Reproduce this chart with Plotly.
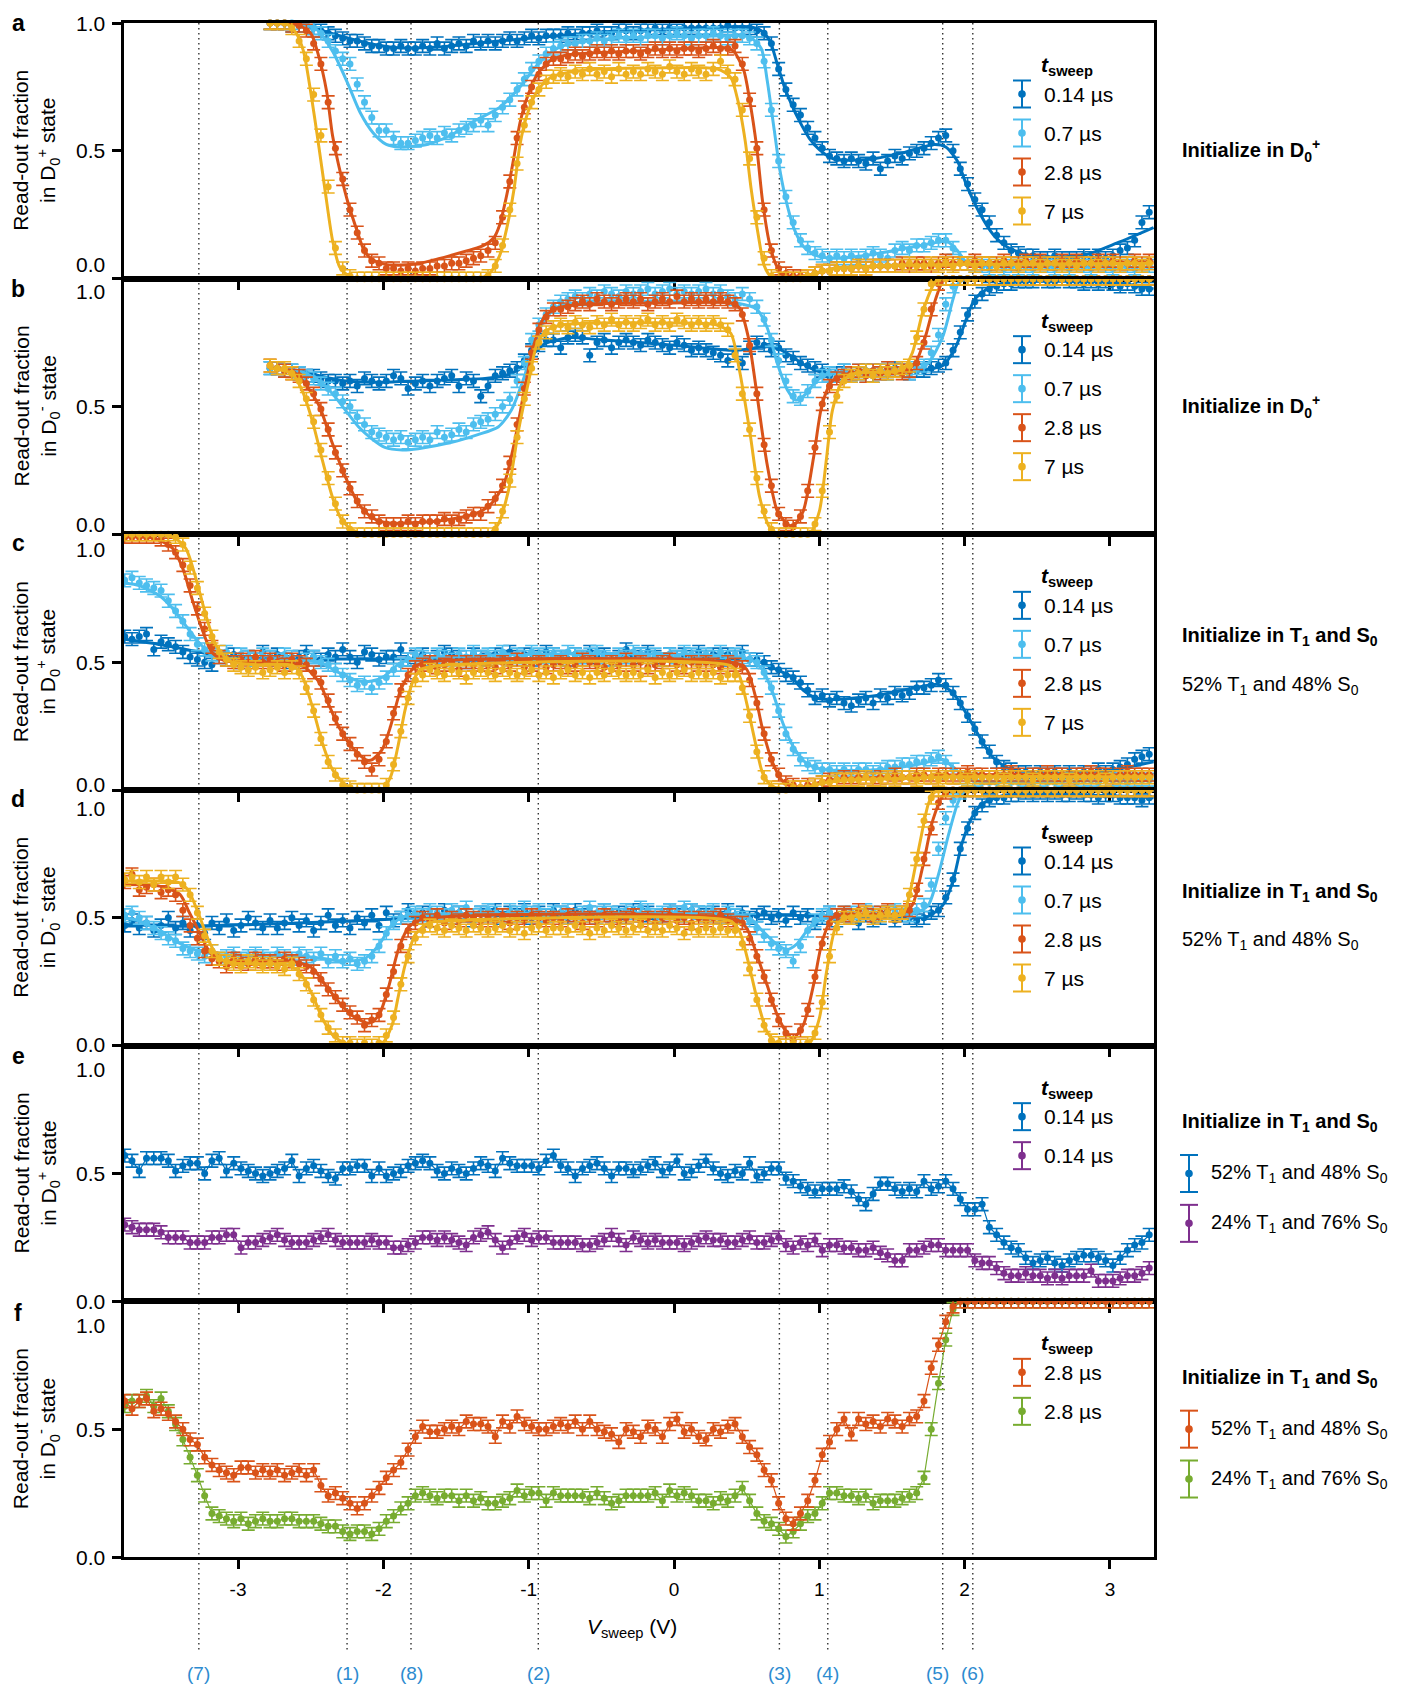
import numpy as np
import plotly.graph_objects as go
from plotly.subplots import make_subplots

# ---------------- sweep-voltage grid ----------------
V_START = -3.78
V_STEP = 0.05
N_V = 142
V_GRID = np.round(V_START + V_STEP * np.arange(N_V), 2)
AB_START = 20  # panels a and b begin at V = -2.78

ERR = 0.025  # half height of error bars

X_TICKS = [-3, -2, -1, 0, 1, 2, 3]
X_TICK_TEXT = ["-3", "-2", "-1", "0", "1", "2", "3"]
Y_TICKS = [0.0, 0.5, 1.0]
Y_TICK_TEXT = ["0.0", "0.5", "1.0"]

MARK_V = [-3.27, -2.25, -1.81, -0.934, 0.725, 1.058, 1.849, 2.056]
MARK_TEXT = ["(7)", "(1)", "(8)", "(2)", "(3)", "(4)", "(5)", "(6)"]
MARK_SHIFT = [0, 0, 0, 0, 0, 0, -5, 0]

SWEEP_LABELS = ["0.14 µs", "0.7 µs", "2.8 µs", "7 µs"]
MIX_LABELS = ["52% T<sub>1</sub> and 48% S<sub>0</sub>", "24% T<sub>1</sub> and 76% S<sub>0</sub>"]

C_014, C_07, C_28, C_7 = "#0072BD", "#4DBEEE", "#D95319", "#EDB120"
C_PUR, C_GRN = "#7E2F8E", "#77AC30"
C_MARK = "#2C8BD0"

# ---------------- panel a (percent, from V=-2.78) ----------------
A_014 = [100,100,100,99,99,99,98,97,96,95,
         94,93,93,92,91,91,90,90,91,90,
         90,91,90,92,90,91,92,91,93,92,
         93,92,93,94,93,94,95,94,95,95,
         95,96,95,96,96,97,96,96,97,97,
         96,97,97,98,97,98,97,98,98,98,
         98,98,98,99,98,98,98,97,96,92,
         82,74,68,64,59,55,51,48,47,46,
         47,46,45,47,43,46,48,47,49,50,
         51,53,55,56,50,43,37,31,27,22,
         17,14,11,10,9,9,8,8,9,8,
         8,8,9,8,9,8,9,11,12,15,22,26]
A_07 = [100,100,100,100,99,99,98,96,93,89,
        86,84,76,69,63,58,58,55,53,53,
        54,55,56,55,57,56,58,59,60,62,
        60,64,67,70,74,78,82,85,88,90,
        91,92,92,93,93,94,93,94,95,94,
        95,94,95,95,94,95,96,95,94,95,
        95,96,95,94,95,95,94,92,85,66,
        46,32,22,15,12,10,9,8,9,8,
        9,8,9,10,9,8,11,12,11,13,
        13,14,15,15,12,8,6,5,5,4,
        5,4,5,4,5,4,5,5,4,5,
        4,5,5,4,5,5,4,5,5,4,5,5]
A_28 = [100,100,100,99,99,97,92,84,69,51,
        39,27,18,11,7,6,4,4,3,4,
        3,4,4,5,5,6,6,7,8,9,
        11,14,24,38,55,67,75,80,84,86,
        86,87,88,87,88,89,88,89,88,89,
        89,88,89,90,89,90,89,90,90,89,
        90,91,90,90,91,84,70,51,27,11,
        4,2,1,1,1,2,3,3,4,4,
        4,5,4,5,5,5,5,6,5,6,
        6,5,6,7,6,6,6,7,6,6,
        6,7,6,6,7,6,7,6,6,7,
        6,7,6,6,7,6,7,6,6,7,6,7]
A_7 = [100,100,100,98,93,86,72,56,36,12,
       4,1,0,0,0,0,0,0,0,0,
       0,0,0,0,0,0,0,0,0,0,
       1,5,13,27,45,60,69,74,77,79,
       80,79,81,80,82,80,81,79,82,80,
       81,80,82,81,80,83,81,80,82,81,
       80,82,85,81,78,66,47,24,8,1,
       0,0,0,0,1,2,3,3,4,4,
       4,5,4,5,5,5,5,5,6,5,
       5,6,5,6,5,6,6,5,6,6,
       5,6,6,5,6,6,5,6,6,5,
       6,5,6,6,5,6,6,5,6,6,5,6]

FIT_A_014 = [(-2.78,1.0),(-2.6,0.995),(-2.45,0.975),(-2.3,0.95),(-2.1,0.92),(-1.9,0.903),(-1.65,0.905),
             (-1.4,0.918),(-1.2,0.93),(-0.8,0.95),(-0.5,0.965),(0.0,0.977),(0.3,0.983),(0.52,0.985),
             (0.6,0.97),(0.66,0.93),(0.71,0.84),(0.76,0.75),(0.81,0.68),(0.86,0.62),(0.93,0.55),
             (1.0,0.505),(1.1,0.468),(1.33,0.466),(1.56,0.49),(1.79,0.525),(1.87,0.515),(1.95,0.46),
             (2.01,0.37),(2.1,0.26),(2.2,0.17),(2.29,0.125),(2.43,0.092),(2.6,0.085),(2.82,0.092),
             (3.05,0.14),(3.3,0.2)]
FIT_A_07 = [(-2.78,1.0),(-2.55,0.995),(-2.46,0.975),(-2.35,0.89),(-2.25,0.77),(-2.16,0.65),(-2.07,0.57),
            (-1.98,0.525),(-1.89,0.515),(-1.7,0.525),(-1.54,0.56),(-1.38,0.615),(-1.2,0.67),(-1.06,0.75),
            (-0.92,0.85),(-0.79,0.905),(-0.51,0.935),(0.18,0.948),(0.52,0.945),(0.6,0.9),(0.64,0.78),
            (0.69,0.58),(0.73,0.42),(0.78,0.285),(0.83,0.19),(0.9,0.12),(0.99,0.088),(1.1,0.08),
            (1.33,0.092),(1.56,0.115),(1.79,0.14),(1.88,0.145),(1.95,0.11),(2.01,0.066),(2.13,0.05),
            (2.5,0.045),(3.3,0.045)]
FIT_A_28 = [(-2.78,1.0),(-2.6,0.995),(-2.5,0.96),(-2.45,0.88),(-2.39,0.73),(-2.35,0.56),(-2.29,0.40),
            (-2.24,0.29),(-2.18,0.185),(-2.14,0.12),(-2.09,0.08),(-2.03,0.062),(-1.93,0.053),(-1.77,0.058),
            (-1.54,0.09),(-1.31,0.13),(-1.24,0.16),(-1.2,0.21),(-1.15,0.33),(-1.1,0.48),(-1.06,0.61),
            (-1.01,0.71),(-0.94,0.80),(-0.85,0.853),(-0.74,0.875),(-0.28,0.89),(0.36,0.903),(0.41,0.89),
            (0.48,0.815),(0.52,0.70),(0.57,0.51),(0.61,0.30),(0.66,0.13),(0.71,0.045),(0.75,0.015),
            (0.86,0.008),(0.97,0.02),(1.1,0.04),(1.56,0.052),(2.0,0.062),(3.3,0.065)]
FIT_A_7 = [(-2.78,1.0),(-2.66,0.995),(-2.6,0.96),(-2.55,0.89),(-2.5,0.73),(-2.45,0.54),(-2.4,0.34),
           (-2.35,0.15),(-2.3,0.045),(-2.23,0.008),(-2.1,0.0),(-1.35,0.0),(-1.27,0.02),(-1.2,0.09),
           (-1.15,0.2),(-1.1,0.354),(-1.06,0.525),(-1.01,0.643),(-0.94,0.735),(-0.85,0.787),(-0.62,0.815),
           (-0.05,0.825),(0.3,0.82),(0.39,0.787),(0.44,0.695),(0.49,0.538),(0.53,0.354),(0.58,0.17),
           (0.62,0.052),(0.67,0.007),(0.82,0.003),(0.97,0.02),(1.1,0.04),(1.56,0.052),(2.0,0.055),(3.3,0.06)]

# ---------------- panel b (percent, from V=-2.78) ----------------
B_014 = [65,65,64,64,63,62,62,61,60,60,
         59,60,58,61,60,59,60,62,61,57,
         59,60,58,60,61,62,58,61,60,54,
         58,62,63,64,65,68,72,74,76,76,
         73,77,78,77,70,75,76,73,75,76,
         75,74,76,75,74,73,75,74,72,73,
         72,71,70,68,71,67,73,75,74,72,
         73,70,69,67,66,65,64,62,63,64,
         62,63,64,62,64,63,65,64,63,64,
         64,65,66,67,72,79,86,91,94,96,
         97,98,98,99,99,99,100,99,99,100,
         99,99,98,99,98,99,98,97,98,97,96,96]
B_07 = [65,65,64,64,63,62,61,59,57,55,
        52,50,46,43,40,39,38,37,38,36,
        37,38,37,40,38,39,41,40,43,44,
        45,47,50,53,60,67,76,82,86,89,
        91,92,93,92,94,93,95,94,93,95,
        94,95,96,94,95,96,94,95,94,95,
        96,94,95,93,92,94,92,89,84,76,
        68,60,54,53,56,60,62,63,62,64,
        63,64,62,64,63,65,64,64,63,65,
        66,71,78,90,97,100,100,100,100,100,
        100,100,100,100,100,100,100,100,100,100,
        100,100,100,100,100,100,100,100,100,100,100,100]
B_28 = [66,65,64,63,62,59,55,49,41,32,
        25,18,13,9,7,5,4,4,4,5,
        4,5,5,5,6,5,6,7,8,8,
        11,14,19,28,43,57,71,80,85,88,
        88,89,90,91,90,92,91,90,91,92,
        91,92,90,91,92,91,93,91,92,91,
        92,91,92,91,90,86,74,55,35,19,
        8,4,3,7,17,34,51,58,61,62,
        63,64,62,64,63,65,64,63,64,67,
        75,88,98,100,100,100,100,100,100,100,
        100,100,100,100,100,100,100,100,100,100,
        100,100,100,100,100,100,100,100,100,100,100,100]
B_7 = [66,65,65,63,60,53,44,33,22,12,
       5,2,0,0,0,0,0,0,0,0,
       0,0,0,0,0,0,0,0,0,0,
       0,2,9,21,38,53,65,75,79,81,
       82,81,83,82,81,83,82,84,82,83,
       82,83,84,82,83,82,84,83,82,83,
       82,83,82,80,70,55,41,22,9,2,
       0,0,0,0,0,4,17,40,54,60,
       62,63,64,62,64,63,64,65,66,77,
       88,98,100,100,100,100,100,100,100,100,
       100,100,100,100,100,100,100,100,100,100,
       100,100,100,100,100,100,100,100,100,100,100,100]

FIT_B_014 = [(-2.78,0.65),(-2.58,0.64),(-2.44,0.62),(-2.26,0.60),(-2.0,0.595),(-1.76,0.60),(-1.3,0.61),
             (-1.17,0.62),(-1.07,0.645),(-0.98,0.70),(-0.89,0.745),(-0.71,0.77),(-0.53,0.762),(0.0,0.74),
             (0.39,0.72),(0.52,0.725),(0.61,0.735),(0.71,0.728),(0.8,0.70),(0.89,0.665),(0.98,0.64),
             (1.12,0.63),(1.66,0.64),(1.85,0.66),(1.94,0.735),(2.01,0.84),(2.07,0.92),(2.17,0.965),
             (2.3,0.985),(2.58,0.99),(3.03,0.985),(3.3,0.96)]
FIT_B_07 = [(-2.78,0.65),(-2.58,0.64),(-2.44,0.60),(-2.35,0.55),(-2.26,0.485),(-2.17,0.42),(-2.08,0.374),
            (-1.99,0.34),(-1.87,0.33),(-1.76,0.335),(-1.53,0.36),(-1.35,0.39),(-1.21,0.42),(-1.12,0.485),
            (-1.03,0.617),(-0.96,0.75),(-0.89,0.84),(-0.8,0.89),(-0.62,0.91),(0.0,0.91),(0.43,0.905),
            (0.57,0.88),(0.64,0.81),(0.71,0.67),(0.78,0.565),(0.84,0.525),(0.91,0.55),(0.98,0.60),
            (1.07,0.63),(1.21,0.635),(1.66,0.643),(1.75,0.67),(1.85,0.775),(1.92,0.92),(1.96,0.985),
            (2.03,1.0),(3.3,1.0)]
FIT_B_28 = [(-2.78,0.65),(-2.63,0.64),(-2.54,0.59),(-2.44,0.50),(-2.35,0.354),(-2.26,0.223),(-2.17,0.118),
            (-2.08,0.066),(-1.99,0.046),(-1.76,0.046),(-1.53,0.06),(-1.35,0.085),(-1.26,0.118),(-1.17,0.197),
            (-1.1,0.354),(-1.03,0.564),(-0.96,0.75),(-0.89,0.853),(-0.8,0.886),(-0.62,0.90),(0.0,0.905),
            (0.39,0.905),(0.45,0.886),(0.51,0.774),(0.57,0.55),(0.64,0.276),(0.71,0.092),(0.78,0.04),
            (0.82,0.033),(0.89,0.092),(0.96,0.30),(1.02,0.51),(1.09,0.60),(1.21,0.63),(1.57,0.636),
            (1.66,0.67),(1.73,0.774),(1.8,0.92),(1.85,0.99),(1.9,1.0),(3.3,1.0)]
FIT_B_7 = [(-2.78,0.65),(-2.63,0.63),(-2.56,0.564),(-2.49,0.446),(-2.42,0.29),(-2.35,0.144),(-2.29,0.06),
           (-2.22,0.02),(-2.12,0.0),(-1.28,0.0),(-1.21,0.04),(-1.14,0.17),(-1.07,0.407),(-1.0,0.60),
           (-0.94,0.75),(-0.87,0.80),(-0.76,0.82),(0.0,0.827),(0.29,0.82),(0.39,0.787),(0.45,0.643),
           (0.52,0.407),(0.59,0.144),(0.66,0.026),(0.73,0.0),(0.93,0.0),(1.0,0.09),(1.05,0.30),
           (1.09,0.485),(1.16,0.60),(1.25,0.63),(1.57,0.643),(1.64,0.71),(1.71,0.866),(1.78,0.97),
           (1.82,1.0),(3.3,1.0)]

# ---------------- panel c (percent, from V=-3.78) ----------------
C_014_D = [60,59,60,61,55,58,57,56,54,52,
           51,50,49,52,51,53,50,52,51,54,
           52,53,51,50,52,54,52,51,53,52,
           55,52,50,54,53,51,52,52,55,51,
           52,53,51,52,54,53,52,50,53,52,
           51,53,52,54,52,53,51,52,54,53,
           52,51,53,52,54,52,53,51,52,55,
           52,53,54,52,51,53,52,53,52,54,
           52,53,51,53,52,54,51,51,50,48,
           47,45,44,42,39,36,37,35,36,34,
           33,35,36,34,37,36,38,37,38,40,
           40,41,43,41,38,34,29,24,19,15,
           11,9,8,7,7,6,7,6,7,6,
           7,6,7,7,8,7,8,9,10,12,
           13,14]
C_07_D = [82,83,81,80,79,78,74,70,66,61,
          57,55,53,52,54,51,53,52,51,53,
          52,51,53,52,50,51,52,50,49,47,
          45,43,41,42,40,42,44,47,49,51,
          53,52,51,53,52,51,53,52,54,52,
          53,52,54,51,53,52,54,53,52,53,
          52,54,53,52,53,54,52,51,53,52,
          54,53,52,53,51,53,52,54,53,52,
          53,52,54,52,53,52,51,50,46,40,
          31,22,16,12,10,9,8,8,7,8,
          7,8,8,7,8,9,9,10,10,11,
          11,12,13,11,8,5,4,4,3,3,
          3,4,3,3,4,3,4,3,3,4,
          4,3,4,4,3,4,4,4,3,4,
          4,4]
C_28_D = [99,99,99,99,99,98,96,93,88,80,
          71,63,56,52,51,50,51,50,52,50,
          51,50,49,51,50,49,46,42,35,28,
          22,18,14,11,8,12,19,30,39,45,
          48,49,50,48,49,50,47,50,49,50,
          49,48,50,49,51,48,49,50,48,49,
          50,48,49,51,50,49,48,50,49,51,
          49,50,48,49,50,51,49,48,50,49,
          50,49,48,50,49,48,43,34,22,12,
          6,3,2,1,2,2,3,4,4,5,
          4,5,5,4,5,5,6,5,5,6,
          6,5,6,6,5,6,7,6,6,5,
          6,6,7,6,5,6,6,7,6,6,
          5,6,6,7,6,6,5,6,7,6,
          6,6]
C_7_D = [100,100,100,100,100,100,100,99,96,87,
         79,69,60,54,51,49,48,47,48,46,
         47,48,46,48,46,40,31,20,11,6,
         2,1,0,0,0,0,2,10,23,36,
         43,45,47,46,45,47,46,44,46,47,
         46,45,47,46,45,46,47,45,46,44,
         46,47,45,46,44,46,45,47,46,45,
         46,45,47,44,46,45,46,47,45,46,
         45,46,44,45,45,40,29,15,5,1,
         0,0,1,1,1,2,3,3,4,4,
         4,4,5,4,4,5,4,5,5,4,
         5,5,4,5,5,5,4,5,5,5,
         5,4,5,5,5,4,5,5,5,5,
         4,5,5,5,5,4,5,5,5,5,
         5,5]

FIT_C_014 = [(-3.78,0.59),(-3.6,0.575),(-3.36,0.55),(-3.13,0.525),(-2.9,0.515),(-2.0,0.512),(0.0,0.512),
             (0.48,0.512),(0.57,0.505),(0.71,0.47),(0.8,0.446),(0.89,0.39),(0.98,0.36),(1.12,0.354),
             (1.44,0.374),(1.66,0.40),(1.82,0.413),(1.92,0.38),(2.01,0.30),(2.1,0.21),(2.19,0.13),
             (2.3,0.085),(2.49,0.066),(2.81,0.068),(3.03,0.079),(3.3,0.11)]
FIT_C_07 = [(-3.78,0.81),(-3.68,0.80),(-3.54,0.76),(-3.45,0.71),(-3.36,0.643),(-3.27,0.577),(-3.18,0.53),
            (-3.05,0.512),(-2.67,0.508),(-2.44,0.50),(-2.31,0.46),(-2.17,0.426),(-2.08,0.426),(-1.99,0.446),
            (-1.9,0.49),(-1.8,0.512),(0.52,0.512),(0.61,0.47),(0.68,0.38),(0.75,0.26),(0.82,0.17),
            (0.91,0.105),(1.02,0.081),(1.21,0.076),(1.44,0.081),(1.66,0.098),(1.85,0.118),(1.94,0.079),
            (2.03,0.04),(2.21,0.033),(3.3,0.04)]
FIT_C_28 = [(-3.78,0.99),(-3.58,0.985),(-3.45,0.945),(-3.38,0.866),(-3.31,0.735),(-3.24,0.617),(-3.18,0.538),
            (-3.09,0.505),(-2.9,0.50),(-2.63,0.496),(-2.54,0.48),(-2.44,0.42),(-2.38,0.34),(-2.31,0.25),
            (-2.22,0.17),(-2.12,0.118),(-2.08,0.118),(-2.01,0.157),(-1.95,0.25),(-1.88,0.394),(-1.8,0.472),
            (-1.74,0.496),(0.43,0.496),(0.5,0.472),(0.56,0.367),(0.61,0.236),(0.68,0.105),(0.75,0.033),
            (0.82,0.013),(0.93,0.016),(1.02,0.033),(1.21,0.046),(1.66,0.052),(1.89,0.059),(3.3,0.059)]
FIT_C_7 = [(-3.78,1.0),(-3.45,0.99),(-3.36,0.945),(-3.29,0.827),(-3.22,0.68),(-3.15,0.564),(-3.06,0.505),
           (-2.9,0.49),(-2.63,0.488),(-2.56,0.446),(-2.49,0.328),(-2.42,0.184),(-2.35,0.079),(-2.26,0.02),
           (-2.17,0.0),(-2.01,0.0),(-1.95,0.052),(-1.9,0.17),(-1.85,0.315),(-1.8,0.42),(-1.74,0.472),
           (-1.63,0.486),(0.39,0.486),(0.45,0.446),(0.5,0.34),(0.56,0.184),(0.61,0.066),(0.68,0.013),
           (0.89,0.007),(1.02,0.026),(1.21,0.04),(1.66,0.046),(1.89,0.052),(3.3,0.052)]

# ---------------- panel d (percent, from V=-3.78) ----------------
D_014 = [47,49,46,48,45,47,50,46,48,45,
         47,44,48,46,49,45,47,50,48,46,
         49,46,48,50,47,49,45,48,51,47,
         49,46,50,48,51,47,52,49,50,53,
         50,52,49,51,53,50,52,51,49,52,
         51,53,50,52,51,53,50,52,51,53,
         52,50,53,51,52,50,53,51,52,50,
         53,51,52,50,51,53,52,51,53,52,
         51,52,50,53,51,52,50,51,52,50,
         51,49,52,50,51,48,50,52,49,51,
         50,48,51,49,50,52,49,51,50,49,
         50,52,53,58,65,77,85,91,94,96,
         97,97,98,98,99,98,99,98,99,98,
         98,99,98,98,97,98,98,97,97,97,
         96,97]
D_07 = [51,52,50,48,46,44,42,41,38,37,
        36,35,37,34,35,36,34,35,36,35,
        34,36,35,34,36,35,34,36,33,35,
        33,34,32,33,35,39,44,48,50,51,
        52,51,53,52,51,53,52,54,51,52,
        53,52,51,53,52,54,52,53,51,52,
        52,53,51,52,54,52,53,52,51,53,
        52,54,53,51,52,53,52,54,53,52,
        52,53,51,52,51,50,49,46,43,40,
        38,37,33,39,45,49,51,52,51,52,
        52,51,53,52,51,52,53,52,51,53,
        55,63,77,89,96,99,100,100,100,100,
        100,100,100,100,100,100,100,100,100,100,
        100,100,100,100,100,100,100,100,100,100,
        100,100]
D_28 = [64,67,61,62,63,60,61,59,53,47,
        42,37,34,33,31,34,33,32,34,33,
        33,32,34,33,32,31,29,26,22,19,
        16,13,11,8,10,12,20,29,39,45,
        48,50,49,51,48,50,49,51,50,49,
        50,49,51,48,50,49,51,50,49,50,
        49,51,50,48,50,49,51,50,49,50,
        51,49,50,48,50,51,49,50,48,50,
        49,50,51,49,48,48,42,35,27,18,
        10,5,2,6,14,27,40,48,51,52,
        51,53,52,51,52,53,51,52,53,61,
        73,85,95,99,100,100,100,100,100,100,
        100,100,100,100,100,100,100,100,100,100,
        100,100,100,100,100,100,100,100,100,100,
        100,100]
D_7 = [65,66,64,66,63,66,64,66,63,59,
       52,43,37,34,33,32,31,33,32,31,
       32,31,30,32,28,24,18,12,7,4,
       1,1,0,1,0,1,4,11,24,35,
       42,45,47,46,45,47,46,45,47,46,
       45,46,47,45,46,44,46,47,45,46,
       46,45,47,46,44,46,45,47,46,45,
       46,47,45,46,45,47,46,44,46,45,
       46,45,46,45,45,40,30,18,8,2,
       1,0,1,0,1,5,17,35,46,50,
       50,51,52,50,51,52,51,52,59,73,
       88,97,100,100,100,100,100,100,100,100,
       100,100,100,100,100,100,100,100,100,100,
       100,100,100,100,100,100,100,100,100,100,
       100,100]

FIT_D_014 = [(-3.78,0.474),(-3.36,0.467),(-2.9,0.474),(-1.99,0.493),(-1.53,0.51),(-1.07,0.513),(0.0,0.513),
             (0.75,0.51),(1.21,0.506),(1.57,0.50),(1.75,0.506),(1.85,0.55),(1.92,0.644),(1.98,0.788),
             (2.05,0.893),(2.12,0.945),(2.26,0.978),(2.58,0.984),(3.3,0.97)]
FIT_D_07 = [(-3.78,0.50),(-3.68,0.487),(-3.54,0.448),(-3.4,0.40),(-3.27,0.37),(-3.13,0.356),(-2.63,0.353),
            (-2.44,0.343),(-2.26,0.33),(-2.12,0.343),(-2.03,0.395),(-1.94,0.474),(-1.85,0.506),(-1.71,0.513),
            (0.43,0.513),(0.52,0.50),(0.61,0.448),(0.71,0.395),(0.78,0.376),(0.84,0.395),(0.93,0.46),
            (1.02,0.50),(1.21,0.513),(1.66,0.52),(1.75,0.55),(1.82,0.67),(1.89,0.827),(1.95,0.945),
            (1.99,0.99),(2.05,1.0),(3.3,1.0)]
FIT_D_28 = [(-3.78,0.63),(-3.54,0.624),(-3.4,0.592),(-3.34,0.526),(-3.27,0.448),(-3.2,0.37),(-3.13,0.336),
            (-2.99,0.33),(-2.63,0.33),(-2.49,0.304),(-2.4,0.238),(-2.31,0.173),(-2.22,0.12),(-2.1,0.088),
            (-2.03,0.12),(-1.96,0.238),(-1.9,0.37),(-1.83,0.46),(-1.74,0.493),(0.43,0.493),(0.5,0.46),
            (0.57,0.356),(0.64,0.238),(0.71,0.12),(0.78,0.048),(0.82,0.029),(0.89,0.081),(0.96,0.238),
            (1.02,0.408),(1.09,0.50),(1.21,0.513),(1.57,0.516),(1.64,0.55),(1.71,0.696),(1.78,0.88),
            (1.85,0.978),(1.9,1.0),(3.3,1.0)]
FIT_D_7 = [(-3.78,0.644),(-3.4,0.637),(-3.34,0.605),(-3.27,0.513),(-3.2,0.408),(-3.13,0.343),(-3.04,0.323),
           (-2.67,0.317),(-2.58,0.29),(-2.49,0.2),(-2.42,0.107),(-2.35,0.042),(-2.26,0.009),(-2.01,0.009),
           (-1.94,0.081),(-1.9,0.186),(-1.85,0.317),(-1.78,0.435),(-1.69,0.48),(-1.58,0.487),(0.39,0.487),
           (0.45,0.448),(0.51,0.33),(0.57,0.186),(0.64,0.055),(0.71,0.009),(0.93,0.009),(1.0,0.107),
           (1.05,0.29),(1.12,0.474),(1.21,0.506),(1.57,0.513),(1.62,0.59),(1.69,0.788),(1.75,0.945),
           (1.79,0.99),(1.84,1.0),(3.3,1.0)]

# ---------------- panel e (percent, from V=-3.78) ----------------
E_52 = [57,55,51,56,56,56,55,51,53,54,
        54,50,55,56,51,54,52,51,50,49,
        50,51,52,55,49,52,53,51,49,48,
        52,52,53,53,49,52,49,50,51,53,
        54,55,54,51,50,52,51,50,52,54,
        53,51,56,54,53,53,53,52,55,57,
        53,52,49,52,53,54,52,49,52,52,
        51,52,53,54,51,52,55,50,51,53,
        55,52,50,49,51,50,54,49,50,52,
        52,48,47,45,44,43,44,44,44,45,
        43,40,38,42,46,46,44,43,44,43,
        47,44,45,47,44,40,36,36,38,29,
        26,23,21,20,17,15,16,17,15,14,
        16,17,18,18,17,16,14,17,20,22,
        23,26]
E_24 = [30,29,28,28,28,27,25,25,25,23,
        23,23,25,25,26,26,21,23,23,24,
        25,26,24,23,23,23,24,25,26,24,
        23,23,23,23,24,23,23,21,21,22,
        23,25,25,24,25,24,23,22,25,26,
        27,24,21,23,25,26,24,25,25,23,
        23,23,23,22,22,23,24,26,24,22,
        25,24,23,24,23,23,23,22,23,24,
        25,24,24,23,23,24,25,23,23,24,
        25,22,21,23,22,24,20,22,22,21,
        21,20,20,21,19,18,16,16,20,20,
        21,22,22,20,20,20,20,16,15,15,
        13,11,10,10,11,10,10,9,10,9,
        10,10,10,12,8,8,8,9,10,10,
        11,13]

# ---------------- panel f (percent, from V=-3.78) ----------------
F_52 = [61,58,61,62,57,58,56,53,50,46,
        44,39,36,34,33,32,35,35,33,34,
        33,34,32,33,34,32,34,28,24,25,
        23,21,19,21,24,27,31,34,37,42,
        47,51,49,49,50,51,50,53,52,52,
        51,47,53,51,55,52,51,50,50,51,
        52,51,53,50,53,50,49,48,45,50,
        49,47,51,50,47,52,54,49,50,47,
        46,50,49,51,52,47,43,40,34,30,
        21,15,13,17,22,30,40,45,50,54,
        48,54,52,53,51,54,53,51,54,55,
        61,74,83,92,98,100,100,100,100,100,
        100,100,100,100,100,100,100,100,100,100,
        100,100,100,100,100,100,100,100,100,100,
        100,100]
F_24 = [59,61,61,63,59,62,57,52,46,39,
        32,24,17,16,15,14,15,13,14,15,
        14,14,15,15,14,14,14,13,12,12,
        10,9,10,10,9,11,14,16,19,21,
        24,25,24,23,24,24,22,24,22,23,
        21,21,22,23,26,24,25,25,22,25,
        24,24,24,24,23,25,23,21,22,24,
        24,24,24,25,22,26,24,25,24,22,
        22,21,23,22,24,27,22,17,14,13,
        11,8,10,13,16,17,21,25,25,24,
        24,23,24,21,22,22,22,23,24,25,
        31,50,68,85,97,100,100,100,100,100,
        100,100,100,100,100,100,100,100,100,100,
        100,100,100,100,100,100,100,100,100,100,
        100,100]

# =====================================================================
W, H = 1406, 1684
ML, MR, MT, MB = 124, 252, 23, 127
PLOT_W = W - ML - MR
PLOT_H = H - MT - MB
PANEL_H = PLOT_H / 6.0
FONT = "Liberation Sans, Arial, Helvetica, sans-serif"
FS_TICK = 21
FS_TITLE = 21
FS_LEG = 21
FS_SIDE = 20

fig = make_subplots(rows=6, cols=1, shared_xaxes=True, vertical_spacing=0)


def add_points(row, vals, start, color, connect=False):
    y = np.array(vals, dtype=float) / 100.0
    x = V_GRID[start:start + len(y)]
    y = y[:len(x)]
    fig.add_trace(go.Scatter(
        x=x, y=y, mode="lines+markers" if connect else "markers",
        marker=dict(color=color, size=7),
        line=dict(color=color, width=1.2),
        error_y=dict(type="constant", value=ERR, color=color, thickness=1.6, width=6.5),
        cliponaxis=False, showlegend=False, hoverinfo="skip"), row=row, col=1)


def add_fit(row, knots, color):
    xs = [k[0] for k in knots]
    ys = [k[1] for k in knots]
    fig.add_trace(go.Scatter(
        x=xs, y=ys, mode="lines",
        line=dict(color=color, width=3, shape="spline", smoothing=0.7),
        showlegend=False, hoverinfo="skip"), row=row, col=1)


FIT_PANELS = [
    (1, AB_START, [(A_014, FIT_A_014), (A_07, FIT_A_07), (A_28, FIT_A_28), (A_7, FIT_A_7)]),
    (2, AB_START, [(B_014, FIT_B_014), (B_07, FIT_B_07), (B_28, FIT_B_28), (B_7, FIT_B_7)]),
    (3, 0, [(C_014_D, FIT_C_014), (C_07_D, FIT_C_07), (C_28_D, FIT_C_28), (C_7_D, FIT_C_7)]),
    (4, 0, [(D_014, FIT_D_014), (D_07, FIT_D_07), (D_28, FIT_D_28), (D_7, FIT_D_7)]),
]
COLORS4 = [C_014, C_07, C_28, C_7]
for row, start, series in FIT_PANELS:
    for (vals, knots), col in zip(series, COLORS4):
        add_points(row, vals, start, col)
        add_fit(row, knots, col)

add_points(5, E_52, 0, C_014, connect=True)
add_points(5, E_24, 0, C_PUR, connect=True)
add_points(6, F_24, 0, C_GRN, connect=True)
add_points(6, F_52, 0, C_28, connect=True)

# ---------------- axes ----------------
for i in range(1, 7):
    fig.update_xaxes(row=i, col=1, range=[-3.785, 3.303], showline=True, linewidth=2.6,
                     linecolor="black", mirror=True, ticks="outside", ticklen=9, tickwidth=2.6,
                     tickcolor="black", tickvals=X_TICKS, ticktext=X_TICK_TEXT,
                     showticklabels=(i == 6), showgrid=False, zeroline=False,
                     tickfont=dict(size=19, family=FONT, color="black"))
    fig.update_yaxes(row=i, col=1, range=[0, 1], showline=True, linewidth=2.6, linecolor="black",
                     mirror=True, ticks="outside", ticklen=9, tickwidth=2.6, tickcolor="black",
                     tickvals=Y_TICKS, showticklabels=False, showgrid=False, zeroline=False)
fig.update_xaxes(row=6, col=1, ticklabelstandoff=4)

annotations = []
shapes = []


def yname(i):
    return "y" if i == 1 else "y%d" % i


def px_x(px):
    return (px - ML) / PLOT_W


def px_y(py):
    return (H - MB - py) / PLOT_H


# y tick labels (ends nudged inwards as in the original)
Y0_SHIFT = [14, 10, 6, 1, 0, 0]
Y1_SHIFT = [0, -13, -15, -18, -24, -24]
for i in range(1, 7):
    shifts = [Y0_SHIFT[i - 1], 0, Y1_SHIFT[i - 1]]
    for v, t, s in zip(Y_TICKS, Y_TICK_TEXT, shifts):
        annotations.append(dict(xref="paper", yref=yname(i), x=px_x(107), y=v, yshift=s,
                                xanchor="right", yanchor="middle", showarrow=False, text=t,
                                font=dict(size=FS_TICK, family=FONT, color="black")))

# y titles and panel letters
YTITLE_STATE = ["+", "-", "+", "-", "+", "-"]
LETTERS = ["a", "b", "c", "d", "e", "f"]
LETTER_SHIFT = [0, -10, -9, -9, -10, -12]
for i in range(1, 7):
    st = YTITLE_STATE[i - 1]
    annotations.append(dict(xref="paper", yref=yname(i) + " domain", x=px_x(36), y=0.5,
                            xanchor="center", yanchor="middle", textangle=-90, showarrow=False,
                            text="Read-out fraction<br>in D<sub>0</sub><sup>%s</sup> state" % st,
                            font=dict(size=FS_TITLE, family=FONT, color="black")))
    annotations.append(dict(xref="paper", yref=yname(i) + " domain", x=px_x(18), y=1.0,
                            yshift=LETTER_SHIFT[i - 1], xanchor="center", yanchor="middle",
                            showarrow=False, text="<b>%s</b>" % LETTERS[i - 1],
                            font=dict(size=23, family=FONT, color="black")))


def errbar_icon(xp, yref, yd, half_h_px, color):
    dy = half_h_px / PANEL_H
    dx = 9.0 / PLOT_W
    shapes.append(dict(type="line", xref="paper", yref=yref, x0=xp, x1=xp, y0=yd - dy, y1=yd + dy,
                       line=dict(color=color, width=2)))
    for yy in (yd - dy, yd + dy):
        shapes.append(dict(type="line", xref="paper", yref=yref, x0=xp - dx, x1=xp + dx, y0=yy, y1=yy,
                           line=dict(color=color, width=2)))
    r = 3.8
    shapes.append(dict(type="circle", xref="paper", yref=yref, x0=xp - r / PLOT_W, x1=xp + r / PLOT_W,
                       y0=yd - r / PANEL_H, y1=yd + r / PANEL_H, fillcolor=color,
                       line=dict(color=color, width=0)))


# in-panel t_sweep legends
LEG_ITEMS = {
    1: list(zip(SWEEP_LABELS, COLORS4)),
    2: list(zip(SWEEP_LABELS, COLORS4)),
    3: list(zip(SWEEP_LABELS, COLORS4)),
    4: list(zip(SWEEP_LABELS, COLORS4)),
    5: [(SWEEP_LABELS[0], C_014), (SWEEP_LABELS[0], C_PUR)],
    6: [(SWEEP_LABELS[2], C_28), (SWEEP_LABELS[2], C_GRN)],
}
for i in range(1, 7):
    yref = yname(i) + " domain"
    annotations.append(dict(xref="paper", yref=yref, x=px_x(1067), y=1 - 43 / PANEL_H,
                            xanchor="center", yanchor="middle", showarrow=False,
                            text="<b><i>t</i></b><sub><b>sweep</b></sub>",
                            font=dict(size=FS_LEG, family=FONT, color="black")))
    for j, (lab, col) in enumerate(LEG_ITEMS[i]):
        yd = 1 - (71 + 39 * j) / PANEL_H
        errbar_icon(px_x(1022), yref, yd, 13.5, col)
        annotations.append(dict(xref="paper", yref=yref, x=px_x(1042), y=yd, xanchor="left",
                                yanchor="middle", showarrow=False, text=lab,
                                font=dict(size=FS_LEG, family=FONT, color="black")))

# right-hand descriptions
RX = px_x(1180)
INIT_D = "<b>Initialize in D<sub>0</sub><sup>+</sup></b>"
INIT_TS = "<b>Initialize in T<sub>1</sub> and S<sub>0</sub></b>"
for i in (1, 2):
    annotations.append(dict(xref="paper", yref=yname(i) + " domain", x=RX, y=0.5, xanchor="left",
                            yanchor="middle", showarrow=False, text=INIT_D,
                            font=dict(size=FS_SIDE, family=FONT, color="black")))
for i in (3, 4):
    annotations.append(dict(xref="paper", yref=yname(i) + " domain", x=RX, y=0.6, xanchor="left",
                            yanchor="middle", showarrow=False, text=INIT_TS,
                            font=dict(size=FS_SIDE, family=FONT, color="black")))
    annotations.append(dict(xref="paper", yref=yname(i) + " domain", x=RX, y=0.41, xanchor="left",
                            yanchor="middle", showarrow=False, text=MIX_LABELS[0],
                            font=dict(size=FS_SIDE, family=FONT, color="black")))
for i, cols in ((5, (C_014, C_PUR)), (6, (C_28, C_GRN))):
    yref = yname(i) + " domain"
    annotations.append(dict(xref="paper", yref=yref, x=RX, y=0.70, xanchor="left",
                            yanchor="middle", showarrow=False, text=INIT_TS,
                            font=dict(size=FS_SIDE, family=FONT, color="black")))
    for j, (lab, col) in enumerate(zip(MIX_LABELS, cols)):
        yd = 0.5 - 0.195 * j
        errbar_icon(px_x(1189), yref, yd, 18.5, col)
        annotations.append(dict(xref="paper", yref=yref, x=px_x(1209), y=yd, xanchor="left",
                                yanchor="middle", showarrow=False, text=lab,
                                font=dict(size=FS_SIDE, family=FONT, color="black")))

# dotted marker lines and their labels
for v, t, s in zip(MARK_V, MARK_TEXT, MARK_SHIFT):
    shapes.append(dict(type="line", xref="x6", yref="paper", x0=v, x1=v, y0=1.0, y1=px_y(1653),
                       line=dict(color="#333333", width=1.4, dash="1.5px,3.5px"), layer="below"))
    annotations.append(dict(xref="x6", yref="paper", x=v, y=px_y(1673), xshift=s, xanchor="center",
                            yanchor="middle", showarrow=False, text=t,
                            font=dict(size=19, family=FONT, color=C_MARK)))

# x-axis title
annotations.append(dict(xref="paper", yref="paper", x=px_x(632), y=px_y(1628), xanchor="center",
                        yanchor="middle", showarrow=False, text="<i>V</i><sub>sweep</sub> (V)",
                        font=dict(size=FS_TITLE, family=FONT, color="black")))

fig.update_layout(width=W, height=H, margin=dict(l=ML, r=MR, t=MT, b=MB),
                  plot_bgcolor="white", paper_bgcolor="white", showlegend=False,
                  font=dict(family=FONT, size=19, color="black"),
                  annotations=annotations, shapes=shapes)

fig.write_html("out.html", config={"displayModeBar": False},
               post_script="document.body.style.margin='0px';document.body.style.padding='0px';")
